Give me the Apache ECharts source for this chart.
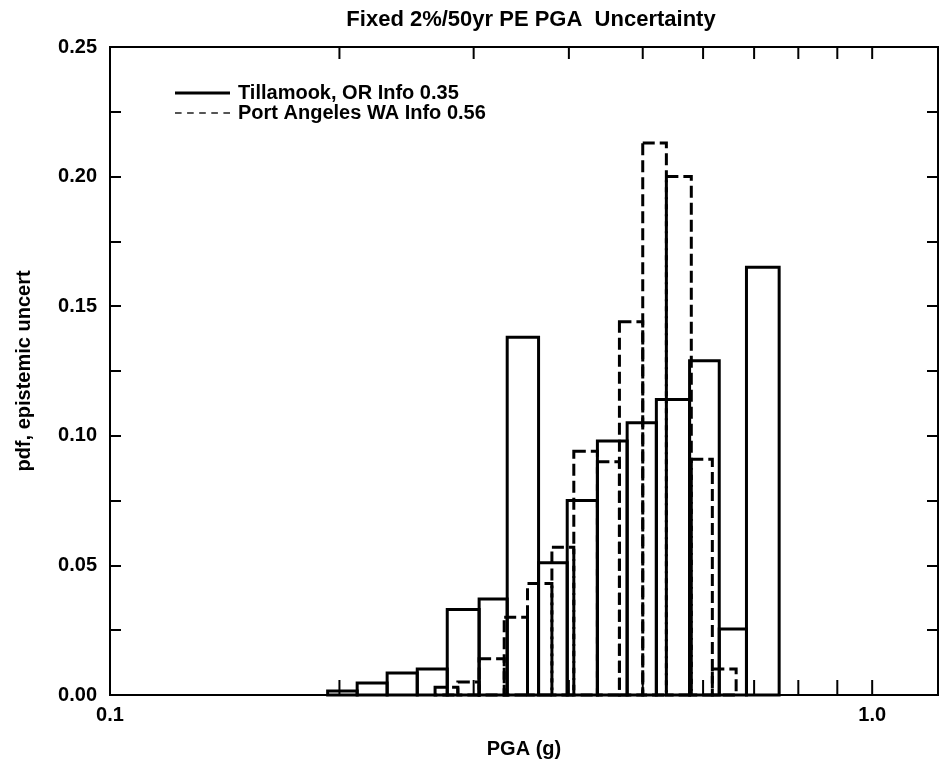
<!DOCTYPE html>
<html>
<head>
<meta charset="utf-8">
<title>Fixed 2%/50yr PE PGA Uncertainty</title>
<script src="https://cdn.jsdelivr.net/npm/echarts@6/dist/echarts.min.js"></script>
<style>
    html, body { margin: 0; padding: 0; background: #fff; }
    #chart { width: 942px; height: 768px; }
</style>
</head>
<body>
<div id="chart"></div>
<script>
    // histogram bin edges (g) and pdf heights
    var tillamookEdges = [0.193, 0.211, 0.231, 0.253, 0.277, 0.305, 0.332, 0.365, 0.398, 0.436, 0.477, 0.521, 0.576, 0.630, 0.684, 0.755];
    var tillamookPdf = [0.0015, 0.0046, 0.0085, 0.010, 0.033, 0.037, 0.138, 0.051, 0.075, 0.098, 0.105, 0.114, 0.129, 0.0255, 0.165];
    var portAngelesEdges = [0.267, 0.286, 0.305, 0.329, 0.353, 0.380, 0.406, 0.436, 0.466, 0.500, 0.537, 0.579, 0.617, 0.663];
    var portAngelesPdf = [0.003, 0.005, 0.014, 0.030, 0.043, 0.057, 0.094, 0.090, 0.144, 0.213, 0.200, 0.091, 0.010];

    var seriesNames = ['Tillamook, OR Info 0.35', 'Port Angeles WA Info 0.56'];

    // axis ticks / labels
    var xTickValues = [0.2, 0.3, 0.4, 0.5, 0.6, 0.7, 0.8, 0.9, 1.0];
    var xLabelValues = [0.1, 1.0];
    var xLabelTexts = ['0.1', '1.0'];
    var yLabelTexts = ['0.00', '0.05', '0.10', '0.15', '0.20', '0.25'];

    var font = 'Liberation Sans, Arial, Helvetica, sans-serif';

    function toBins(edges, pdf) {
        var out = [];
        for (var i = 0; i < pdf.length; i++) {
            out.push([edges[i], edges[i + 1], pdf[i]]);
        }
        return out;
    }

    function histRender(dash) {
        return function (params, api) {
            var p0 = api.coord([api.value(0), api.value(2)]);
            var p1 = api.coord([api.value(1), 0]);
            return {
                type: 'rect',
                shape: { x: p0[0], y: p0[1], width: p1[0] - p0[0], height: p1[1] - p0[1] },
                style: { fill: 'none', stroke: '#000', lineWidth: 3, lineDash: dash }
            };
        };
    }

    var yAxisBase = {
        type: 'value',
        min: 0,
        max: 0.25,
        interval: 0.05,
        axisLine: { show: true, lineStyle: { color: '#000', width: 2 } },
        axisTick: { show: true, inside: true, length: 11, lineStyle: { color: '#000', width: 2 } },
        minorTick: { show: true, splitNumber: 2, length: 11, lineStyle: { color: '#000', width: 2 } },
        splitLine: { show: false }
    };

    var option = {
        animation: false,
        backgroundColor: '#fff',
        title: {
            text: 'Fixed 2%/50yr PE PGA  Uncertainty',
            left: 526,
            textAlign: 'center',
            top: 4,
            textStyle: { fontFamily: font, fontSize: 22, fontWeight: 'bold', color: '#000' }
        },
        legend: {
            left: 170,
            top: 78,
            orient: 'vertical',
            itemGap: 0,
            itemWidth: 55,
            itemHeight: 3,
            textStyle: { fontFamily: font, fontSize: 20, fontWeight: 'bold', color: '#000', lineHeight: 19, padding: [0, 0, 0, 3] },
            data: [
                { name: seriesNames[0], icon: 'rect', itemStyle: { color: '#000' } },
                {
                    name: seriesNames[1],
                    icon: 'path://M0 0H6V2H0Z M11 0H17V2H11Z M22 0H28V2H22Z M33 0H39V2H33Z M44 0H50V2H44Z',
                    itemStyle: { color: '#555' }
                }
            ]
        },
        grid: {
            left: 110,
            right: 4,
            top: 47,
            bottom: 73,
            show: true,
            borderColor: '#000',
            borderWidth: 2
        },
        xAxis: {
            type: 'log',
            logBase: 10,
            min: 0.1,
            max: 1.22,
            name: 'PGA (g)',
            nameLocation: 'middle',
            nameGap: 44,
            nameTextStyle: { fontFamily: font, fontSize: 20, fontWeight: 'bold', color: '#000' },
            axisLine: { show: true, lineStyle: { color: '#000', width: 2 } },
            axisTick: { show: false },
            splitLine: { show: false },
            axisLabel: {
                margin: 10,
                fontFamily: font,
                fontSize: 20,
                fontWeight: 'bold',
                color: '#000',
                formatter: function (v) {
                    for (var i = 0; i < xLabelValues.length; i++) {
                        if (Math.abs(v - xLabelValues[i]) < 1e-6) return xLabelTexts[i];
                    }
                    return '';
                }
            }
        },
        yAxis: [
            Object.assign({}, yAxisBase, {
                position: 'left',
                name: 'pdf, epistemic uncert',
                nameLocation: 'middle',
                nameGap: 76,
                nameTextStyle: { fontFamily: font, fontSize: 20, fontWeight: 'bold', color: '#000' },
                axisLabel: {
                    margin: 13,
                    fontFamily: font,
                    fontSize: 20,
                    fontWeight: 'bold',
                    color: '#000',
                    formatter: function (v) {
                        return yLabelTexts[Math.round(v / 0.05)];
                    }
                }
            }),
            Object.assign({}, yAxisBase, {
                position: 'right',
                axisLabel: { show: false }
            })
        ],
        series: [
            {
                name: seriesNames[0],
                type: 'custom',
                itemStyle: { color: '#000' },
                encode: { x: [0, 1], y: 2 },
                renderItem: histRender(null),
                data: toBins(tillamookEdges, tillamookPdf),
                z: 3
            },
            {
                name: seriesNames[1],
                type: 'custom',
                itemStyle: { color: '#000' },
                encode: { x: [0, 1], y: 2 },
                renderItem: histRender([12, 5]),
                data: toBins(portAngelesEdges, portAngelesPdf),
                z: 2
            },
            {
                // minor log ticks on bottom and top edges
                name: 'xticks',
                type: 'custom',
                silent: true,
                encode: { x: 0, y: 1 },
                renderItem: function (params, api) {
                    var x = api.coord([api.value(0), 0])[0];
                    var cs = params.coordSys;
                    var bottom = cs.y + cs.height;
                    return {
                        type: 'group',
                        children: [
                            { type: 'line', shape: { x1: x, y1: bottom, x2: x, y2: bottom - 15 }, style: { stroke: '#000', lineWidth: 2 } },
                            { type: 'line', shape: { x1: x, y1: cs.y, x2: x, y2: cs.y + 12 }, style: { stroke: '#000', lineWidth: 2 } }
                        ]
                    };
                },
                data: xTickValues.map(function (v) { return [v, 0]; }),
                z: 4
            }
        ]
    };

    var myChart = echarts.init(document.getElementById('chart'));
    myChart.setOption(option);
    window.addEventListener('resize', function () {
        myChart.resize();
    });
</script>
</body>
</html>
